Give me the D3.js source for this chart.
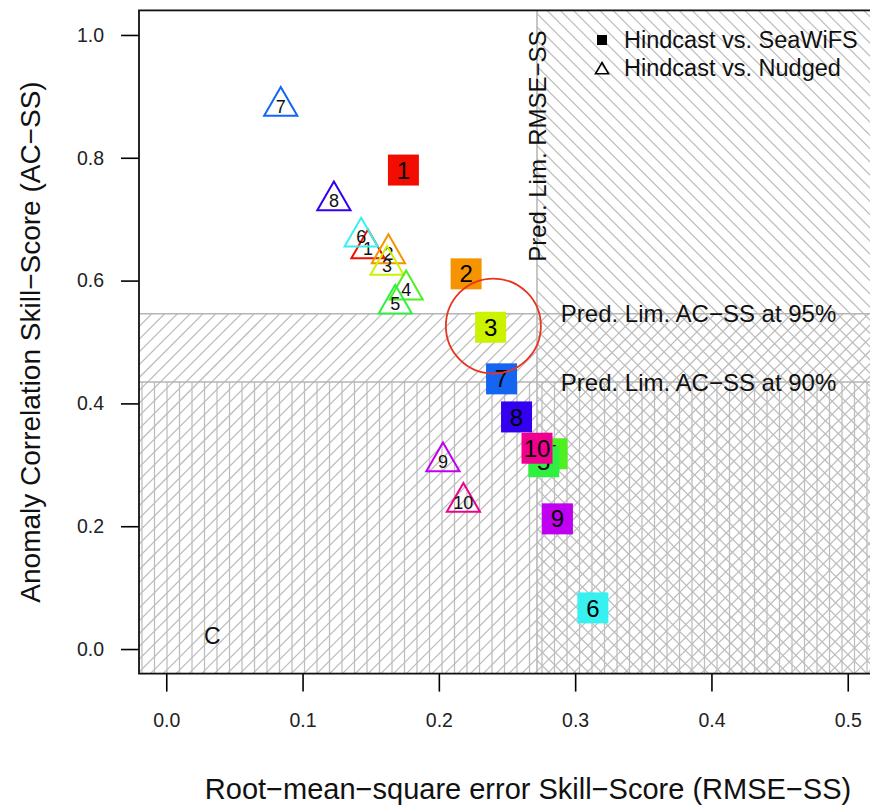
<!DOCTYPE html>
<html>
<head>
<meta charset="utf-8">
<script src="https://cdn.jsdelivr.net/npm/d3@7"></script>
<style>
  html, body { margin: 0; padding: 0; background: #ffffff; }
  svg { display: block; font-family: "Liberation Sans", Arial, Helvetica, sans-serif; }
</style>
</head>
<body>
<svg id="chart" width="870" height="807"></svg>
<script>
// ---------------- data ----------------
const modelIds = ["1", "2", "3", "4", "5", "6", "7", "8", "9", "10"];
const modelColors = ["#f20d00", "#f59300", "#ccf200", "#4ef020", "#2ff040",
                     "#38f0f0", "#1466f2", "#3300f0", "#c000f0", "#f0008f"];
// Hindcast vs. SeaWiFS (filled squares)
const seawifsRMSE = [0.174, 0.220, 0.238, 0.283, 0.277, 0.313, 0.246, 0.257, 0.287, 0.272];
const seawifsAC   = [0.780, 0.611, 0.524, 0.318, 0.305, 0.067, 0.440, 0.378, 0.212, 0.327];
// Hindcast vs. Nudged (open triangles)
const nudgedRMSE  = [0.148, 0.163, 0.162, 0.176, 0.168, 0.143, 0.084, 0.123, 0.203, 0.218];
const nudgedAC    = [0.652, 0.644, 0.625, 0.585, 0.562, 0.671, 0.884, 0.730, 0.305, 0.239];
// prediction limits
const predLimRMSE = 0.272;
const predLimAC95 = 0.546;
const predLimAC90 = 0.435;
// axes
const xTicks = [0.0, 0.1, 0.2, 0.3, 0.4, 0.5];
const xTickLabels = ["0.0", "0.1", "0.2", "0.3", "0.4", "0.5"];
const yTicks = [0.0, 0.2, 0.4, 0.6, 0.8, 1.0];
const yTickLabels = ["0.0", "0.2", "0.4", "0.6", "0.8", "1.0"];
const legendLabels = ["Hindcast vs. SeaWiFS", "Hindcast vs. Nudged"];
const xTitle = "Root\u2212mean\u2212square error Skill\u2212Score (RMSE\u2212SS)";
const yTitle = "Anomaly Correlation Skill\u2212Score (AC\u2212SS)";
const highlight = { rmse: 0.240, ac: 0.526 };   // red circle around model 3

// ---------------- layout ----------------
const svg = d3.select("#chart");
const L = 139, R = 875, T = 10.4, B = 673.6;
const x = d3.scaleLinear().domain([-0.02, 0.52]).range([L, R]);
const y = d3.scaleLinear().domain([-0.04, 1.04]).range([B, T]);

const defs = svg.append("defs");
function clipRect(id, x0, y0, x1, y1) {
  defs.append("clipPath").attr("id", id).append("rect")
    .attr("x", x0).attr("y", y0).attr("width", x1 - x0).attr("height", y1 - y0);
  return "url(#" + id + ")";
}
const hatchColor = "#bdbdbd";
function hatch(id, x0, y0, x1, y1, kind, step) {
  const g = svg.append("g").attr("clip-path", clipRect(id, x0, y0, x1, y1))
    .attr("stroke", hatchColor).attr("stroke-width", 1.25).attr("fill", "none");
  const H = y1 - y0;
  if (kind === "v") {
    for (let xx = x0 + 3; xx <= x1; xx += step)
      g.append("line").attr("x1", xx).attr("x2", xx).attr("y1", y0).attr("y2", y1);
  } else if (kind === "/") {
    for (let xx = x0 - H - step; xx <= x1 + step; xx += step)
      g.append("line").attr("x1", xx).attr("y1", y1).attr("x2", xx + H + 10).attr("y2", y1 - H - 10);
  } else {
    for (let xx = x0 - H - step; xx <= x1 + step; xx += step)
      g.append("line").attr("x1", xx).attr("y1", y0).attr("x2", xx + H + 10).attr("y2", y0 + H + 10);
  }
}
const xl = x(predLimRMSE), y95 = y(predLimAC95), y90 = y(predLimAC90);
hatch("c1", L, y95, R, B, "/", 12.8);
hatch("c2", L, y90, R, B, "v", 12.5);
hatch("c3", xl, T, R, B, "\\", 13.2);

// region borders
const bord = svg.append("g").attr("stroke", "#b5b5b5").attr("stroke-width", 1.5);
bord.append("line").attr("x1", L).attr("x2", R).attr("y1", y95).attr("y2", y95);
bord.append("line").attr("x1", L).attr("x2", R).attr("y1", y90).attr("y2", y90);
bord.append("line").attr("x1", xl).attr("x2", xl).attr("y1", T).attr("y2", B);

// annotation texts
svg.append("text").attr("x", x(0.2895)).attr("y", y95).attr("dy", "0.36em")
  .attr("font-size", 24).attr("fill", "#111").text("Pred. Lim. AC\u2212SS at 95%");
svg.append("text").attr("x", x(0.2895)).attr("y", y90).attr("dy", "0.36em")
  .attr("font-size", 24).attr("fill", "#111").text("Pred. Lim. AC\u2212SS at 90%");
svg.append("text").attr("transform", `translate(${xl},${y(0.819)}) rotate(-90)`)
  .attr("text-anchor", "middle").attr("dy", "0.36em")
  .attr("font-size", 24).attr("fill", "#111").text("Pred. Lim. RMSE\u2212SS");
svg.append("text").attr("x", x(0.0338)).attr("y", y(0.021)).attr("dy", "0.36em")
  .attr("text-anchor", "middle").attr("font-size", 23).attr("fill", "#111").text("C");

// ---------------- triangles (Hindcast vs. Nudged) ----------------
const triR = 19.2, triXC = 16.6;
function triPath(cx, cy, r, xc) {
  return `M${cx},${cy - r}L${cx + xc},${cy + r / 2}L${cx - xc},${cy + r / 2}Z`;
}
modelIds.forEach((id, i) => {
  const cx = x(nudgedRMSE[i]), cy = y(nudgedAC[i]);
  svg.append("path").attr("d", triPath(cx, cy, triR, triXC))
    .attr("fill", "none").attr("stroke", modelColors[i]).attr("stroke-width", 2);
  svg.append("text").attr("x", cx).attr("y", cy).attr("dy", "0.36em")
    .attr("text-anchor", "middle").attr("font-size", 18).attr("fill", "#111").text(id);
});

// ---------------- squares (Hindcast vs. SeaWiFS) ----------------
const sq = 31;
modelIds.forEach((id, i) => {
  const cx = x(seawifsRMSE[i]), cy = y(seawifsAC[i]);
  svg.append("rect").attr("x", cx - sq / 2).attr("y", cy - sq / 2)
    .attr("width", sq).attr("height", sq).attr("fill", modelColors[i]);
  svg.append("text").attr("x", cx).attr("y", cy).attr("dy", "0.36em")
    .attr("text-anchor", "middle").attr("font-size", 24).attr("fill", "#000").text(id);
});

// red highlight circle
svg.append("circle").attr("cx", x(highlight.rmse)).attr("cy", y(highlight.ac)).attr("r", 47.5)
  .attr("fill", "none").attr("stroke", "#e8341f").attr("stroke-width", 1.8);

// ---------------- legend ----------------
const lg = svg.append("g");
lg.append("rect").attr("x", 597).attr("y", 35).attr("width", 10).attr("height", 10).attr("fill", "#000");
lg.append("path").attr("d", triPath(602, 70, 7.5, 6.5)).attr("fill", "none")
  .attr("stroke", "#000").attr("stroke-width", 1.6);
lg.selectAll("text.lg").data(legendLabels).enter().append("text")
  .attr("x", 624).attr("y", (d, i) => 40 + i * 28).attr("dy", "0.36em")
  .attr("font-size", 23.5).attr("fill", "#111").text(d => d);

// ---------------- axes & box ----------------
const xAxis = d3.axisBottom(x).tickValues(xTicks).tickFormat((d, i) => xTickLabels[i])
  .tickSize(18).tickPadding(22);
const gx = svg.append("g").attr("transform", `translate(0,${B})`).call(xAxis);
gx.select(".domain").remove();
gx.selectAll(".tick line").attr("stroke", "#000").attr("stroke-width", 1.6);
gx.selectAll(".tick text").attr("font-size", 19.5).attr("fill", "#222")
  .attr("font-family", "'Liberation Sans', Arial, sans-serif");

const yAxis = d3.axisLeft(y).tickValues(yTicks).tickFormat((d, i) => yTickLabels[i])
  .tickSize(18).tickPadding(17);
const gy = svg.append("g").attr("transform", `translate(${L},0)`).call(yAxis);
gy.select(".domain").remove();
gy.selectAll(".tick line").attr("stroke", "#000").attr("stroke-width", 1.6);
gy.selectAll(".tick text").attr("font-size", 19.5).attr("fill", "#222")
  .attr("font-family", "'Liberation Sans', Arial, sans-serif");

svg.append("rect").attr("x", L).attr("y", T).attr("width", R - L).attr("height", B - T)
  .attr("fill", "none").attr("stroke", "#111").attr("stroke-width", 1.8);

// axis titles
svg.append("text").attr("x", 528).attr("y", 799).attr("text-anchor", "middle")
  .attr("font-size", 29).attr("fill", "#111").text(xTitle);
svg.append("text").attr("transform", `translate(40,${(T + B) / 2}) rotate(-90)`)
  .attr("text-anchor", "middle").attr("font-size", 28).attr("fill", "#111").text(yTitle);
</script>
</body>
</html>
